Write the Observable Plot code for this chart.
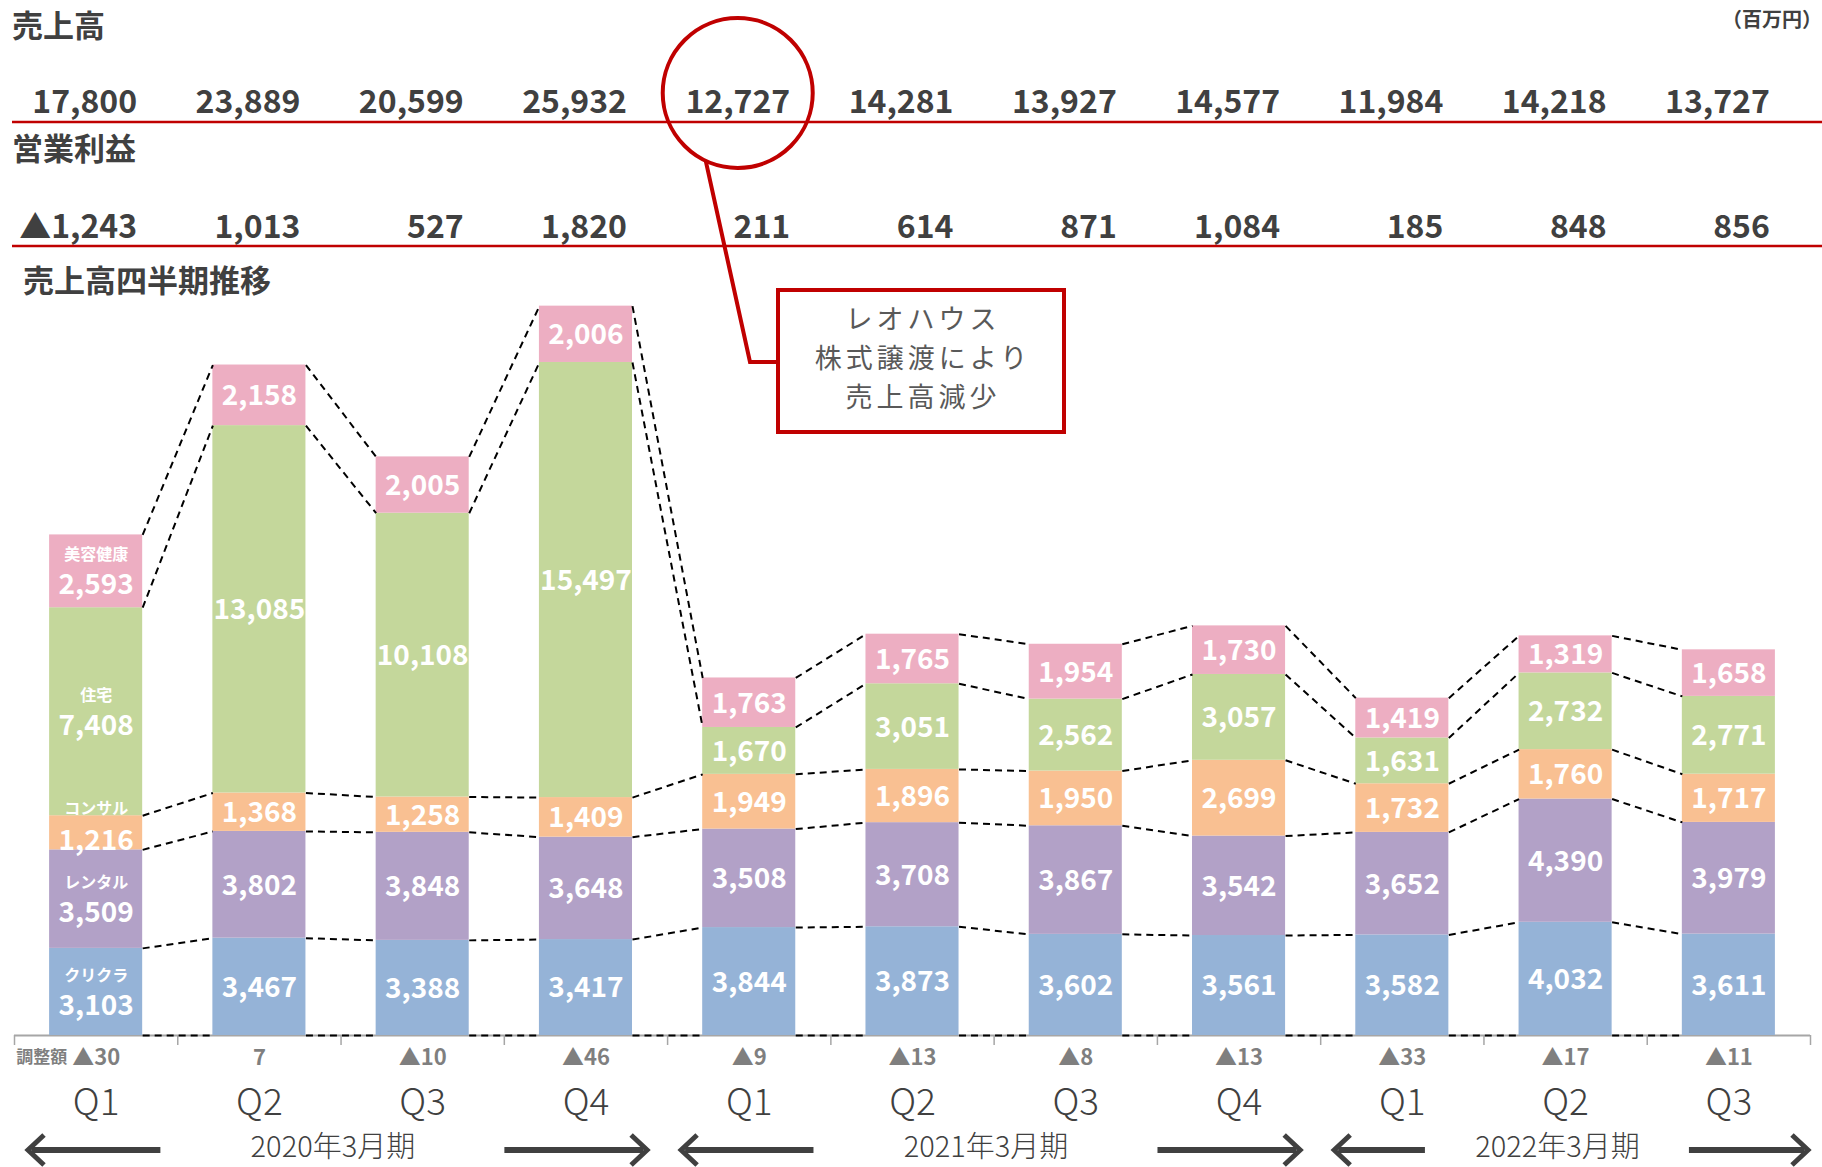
<!DOCTYPE html>
<html><head><meta charset="utf-8">
<script src="https://cdn.jsdelivr.net/npm/d3@7"></script>
<script src="https://cdn.jsdelivr.net/npm/@observablehq/plot@0.6"></script>
<style>
html,body{margin:0;padding:0;background:#fff;}
#chart svg{display:block;}
</style>
</head><body><div id="chart"></div>
<script>
// ---- data ----
const quarters = ["Q1","Q2","Q3","Q4","Q1","Q2","Q3","Q4","Q1","Q2","Q3"];
const kurikura = [3103,3467,3388,3417,3844,3873,3602,3561,3582,4032,3611];
const rental   = [3509,3802,3848,3648,3508,3708,3867,3542,3652,4390,3979];
const consul   = [1216,1368,1258,1409,1949,1896,1950,2699,1732,1760,1717];
const housing  = [7408,13085,10108,15497,1670,3051,2562,3057,1631,2732,2771];
const beauty   = [2593,2158,2005,2006,1763,1765,1954,1730,1419,1319,1658];
const adjust   = [-30,7,-10,-46,-9,-13,-8,-13,-33,-17,-11];
const revenue  = [17800,23889,20599,25932,12727,14281,13927,14577,11984,14218,13727];
const opIncome = [-1243,1013,527,1820,211,614,871,1084,185,848,856];
const segNames = ["クリクラ","レンタル","コンサル","住宅","美容健康"];
const periodLabels = ["2020年3月期","2021年3月期","2022年3月期"];
const periodStart = [0,4,8];
const periodEnd = [3,7,10];
const noteLines = ["レオハウス","株式譲渡により","売上高減少"];

// ---- styling ----
const segColors = ["#95B3D7","#B2A1C7","#F9C092","#C4D79B","#EDAEC2"];
const FONT = "'Noto Sans CJK JP','Noto Sans',sans-serif";
const DARK = "#404040";
const RED = "#C00000";
const W = 1822, H = 1167;
const HW = 0.285; // half bar width (band units)
const fmt = d3.format(",");
const tri = v => v < 0 ? "▲" + fmt(-v) : fmt(v);

// ---- derived tables ----
const series = [kurikura, rental, consul, housing, beauty];
const idx = quarters.map((q, i) => i);
const rows = [];
const cum = idx.map(i => {
  const a = [0]; let c = 0;
  series.forEach((s, k) => {
    rows.push({i, k, seg: segNames[k], value: s[i], y1: c, y2: c + s[i]});
    c += s[i]; a.push(c);
  });
  return a;
});
const links = [];
for (let i = 0; i < idx.length - 1; i++)
  for (let k = 0; k <= series.length; k++)
    links.push({x1: i + HW, x2: i + 1 - HW, y1: cum[i][k], y2: cum[i + 1][k]});
const periods = periodLabels.map((label, j) => ({label, start: periodStart[j], end: periodEnd[j]}));

const firstThin = rows.filter(d => d.i === 0 && d.k === 2);
const firstOther = rows.filter(d => d.i === 0 && d.k !== 2);
const mid = d => (d.y1 + d.y2) / 2;

const plot = Plot.plot({
  width: W, height: H,
  marginLeft: 14, marginRight: 12, marginTop: 305, marginBottom: 132,
  x: {type: "linear", domain: [-0.5, quarters.length - 0.5]},
  y: {domain: [0, 26000], axis: null},
  color: {domain: segNames, range: segColors},
  style: {fontFamily: FONT, background: "#fff", overflow: "visible"},
  marks: [
    Plot.axisX(d3.range(quarters.length + 1).map(i => i - 0.5),
      {tickSize: 10, tickFormat: () => "", stroke: "#A6A6A6", strokeWidth: 1.5}),
    Plot.ruleY([0], {stroke: "#A6A6A6", strokeWidth: 2}),
    Plot.rect(rows, {x1: d => d.i - HW, x2: d => d.i + HW, y1: "y1", y2: "y2", fill: "seg"}),
    Plot.link(links, {x1: "x1", y1: "y1", x2: "x2", y2: "y2", stroke: "#000", strokeWidth: 2, strokeDasharray: "7,5"}),
    // segment values
    Plot.text(rows.filter(d => d.i > 0), {x: "i", y: mid, text: d => fmt(d.value),
      fill: "#fff", fontSize: 28, fontWeight: "bold", dy: 1}),
    Plot.text(firstOther, {x: "i", y: mid, text: d => fmt(d.value),
      fill: "#fff", fontSize: 28, fontWeight: "bold", dy: 14}),
    Plot.text(firstOther, {x: "i", y: mid, text: "seg",
      fill: "#fff", fontSize: 16, fontWeight: "bold", dy: -16}),
    Plot.text(firstThin, {x: "i", y: mid, text: d => fmt(d.value),
      fill: "#fff", fontSize: 28, fontWeight: "bold", dy: 8}),
    Plot.text(firstThin, {x: "i", y: mid, text: "seg",
      fill: "#fff", fontSize: 16, fontWeight: "bold", dy: -24}),
    // header rows
    Plot.text(idx, {x: d => d, text: d => fmt(revenue[d]), frameAnchor: "top", lineAnchor: "middle",
      dy: -203, dx: 41, textAnchor: "end", fontSize: 32, fontWeight: "bold", fill: DARK}),
    Plot.text(idx, {x: d => d, text: d => tri(opIncome[d]), frameAnchor: "top", lineAnchor: "middle",
      dy: -78, dx: 41, textAnchor: "end", fontSize: 32, fontWeight: "bold", fill: DARK}),
    // bottom rows
    Plot.text(idx, {x: d => d, text: d => tri(adjust[d]), frameAnchor: "bottom", lineAnchor: "middle", dy: 22,
      fontSize: 22, fontWeight: "bold", fill: "#7F7F7F"}),
    Plot.text([0], {x: d => d, text: () => "調整額", frameAnchor: "bottom", lineAnchor: "middle", dy: 22, dx: -29,
      textAnchor: "end", fontSize: 17, fontWeight: "bold", fill: "#7F7F7F"}),
    Plot.text(idx, {x: d => d, text: d => quarters[d], frameAnchor: "bottom", lineAnchor: "middle", dy: 68,
      fontSize: 37, fontWeight: 300, fill: DARK}),
    Plot.text(periods, {x: d => (d.start + d.end) / 2 - 0.05, text: "label", frameAnchor: "bottom", lineAnchor: "middle",
      dy: 112, fontSize: 29, fontWeight: 300, fill: DARK})
  ]
});
document.getElementById("chart").appendChild(plot);

// ---- static annotations ----
const svg = d3.select(plot);
const xs = plot.scale("x").apply;
const g = svg.append("g").attr("font-family", FONT);

function label(x, y, t, size, anchor, weight, fill) {
  g.append("text").attr("x", x).attr("y", y).attr("dy", "0.35em")
    .attr("text-anchor", anchor).attr("font-size", size).attr("font-weight", weight)
    .attr("fill", fill).text(t);
}
label(12, 26, "売上高", 31, "start", "bold", DARK);
label(1822, 20, "（百万円）", 20, "end", "bold", DARK);
label(12, 149, "営業利益", 31, "start", "bold", DARK);
label(23, 281, "売上高四半期推移", 31, "start", "bold", DARK);
[122, 246].forEach(y => g.append("line").attr("x1", 12).attr("x2", W).attr("y1", y).attr("y2", y)
  .attr("stroke", RED).attr("stroke-width", 2.5));

// callout circle and box
const cx = xs(4) - 11, cy = 93, r = 75;
g.append("circle").attr("cx", cx).attr("cy", cy).attr("r", r).attr("fill", "none")
  .attr("stroke", RED).attr("stroke-width", 4);
const bx = 778, by = 290, bw = 286, bh = 142;
const ang = Math.atan2(70, -33);
g.append("polyline").attr("points",
  `${cx + r * Math.cos(ang)},${cy + r * Math.sin(ang)} ${bx - 28},${by + 72} ${bx},${by + 72}`)
  .attr("fill", "none").attr("stroke", RED).attr("stroke-width", 4);
g.append("rect").attr("x", bx).attr("y", by).attr("width", bw).attr("height", bh)
  .attr("fill", "#fff").attr("stroke", RED).attr("stroke-width", 4);
noteLines.forEach((t, j) => {
  g.append("text").attr("x", bx + bw / 2 + 2).attr("y", by + 30 + j * 39).attr("dy", "0.35em")
    .attr("text-anchor", "middle").attr("font-size", 27).attr("letter-spacing", 4)
    .attr("fill", "#595959").text(t);
});

// period arrows
const ay = 1150;
periods.forEach(p => {
  const n = p.end - p.start + 1;
  const c = xs((p.start + p.end) / 2 - 0.05);
  const off = n === 4 ? 172 : 132;
  const L = xs(p.start - 0.5) + 14, R = xs(p.end + 0.5) - (n === 4 ? 20 : 2);
  [[c - off, L, -1], [c + off, R, 1]].forEach(([t, h, s]) => {
    g.append("line").attr("x1", t).attr("x2", h - s * 4).attr("y1", ay).attr("y2", ay)
      .attr("stroke", DARK).attr("stroke-width", 6);
    g.append("polyline").attr("points", `${h - s * 16},${ay - 15} ${h},${ay} ${h - s * 16},${ay + 15}`)
      .attr("fill", "none").attr("stroke", DARK).attr("stroke-width", 5).attr("stroke-linejoin", "miter");
  });
});
</script>
</body></html>
